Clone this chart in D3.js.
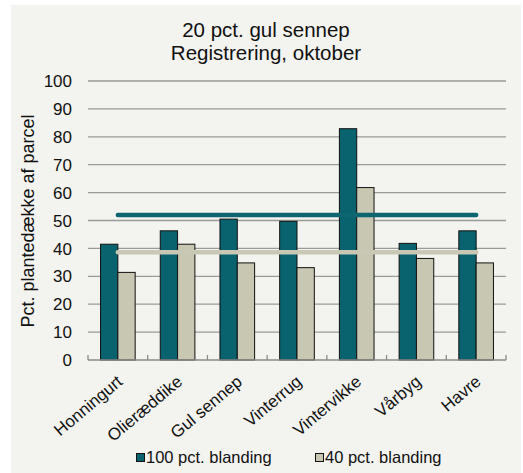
<!DOCTYPE html>
<html>
<head>
<meta charset="utf-8">
<script src="https://cdn.jsdelivr.net/npm/d3@7"></script>
<style>
  body { margin: 0; background: #fff; }
  svg text { font-family: "Liberation Sans", Arial, sans-serif; fill: #111; }
</style>
</head>
<body>
<div id="chart"></div>
<script>
const categories = ['Honningurt', 'Olieræddike', 'Gul sennep', 'Vinterrug', 'Vintervikke', 'Vårbyg', 'Havre'];
const series = ['100 pct. blanding', '40 pct. blanding'];
const values100 = [41.5, 46.3, 50.5, 49.7, 82.9, 41.8, 46.3];
const values40 = [31.4, 41.5, 34.8, 33.1, 61.8, 36.4, 34.8];
const avgLines = [52, 38.6];
const yTicks = [0, 10, 20, 30, 40, 50, 60, 70, 80, 90, 100];
const colors = ['#09636f', '#c8c7b2'];
const lineColors = ['#0c6570', '#c9c8b4'];

const W = 523, H = 473;
const margin = { top: 81, right: 17, bottom: 113, left: 88 };
const width = W - margin.left - margin.right;
const height = H - margin.top - margin.bottom;

const svg = d3.select('#chart').append('svg')
  .attr('width', W)
  .attr('height', H);

svg.append('rect')
  .attr('x', 11).attr('y', 5)
  .attr('width', 510).attr('height', 468)
  .attr('fill', '#f3f3ef');

const g = svg.append('g')
  .attr('transform', `translate(${margin.left},${margin.top})`);

const x = d3.scaleBand().domain(categories).range([0, width]);
const x1 = d3.scaleBand().domain(series).range([x.bandwidth() * 0.21, x.bandwidth() * 0.79]);
const y = d3.scaleLinear().domain([0, 100]).range([height, 0]);

// gridlines
g.append('g')
  .selectAll('line')
  .data(yTicks.slice(1))
  .enter()
  .append('line')
  .attr('x1', 0).attr('x2', width)
  .attr('y1', d => y(d)).attr('y2', d => y(d))
  .attr('stroke', '#9a9a98')
  .attr('stroke-width', 1.3);

// y tick labels
g.append('g')
  .selectAll('text')
  .data(yTicks)
  .enter()
  .append('text')
  .attr('x', -16)
  .attr('y', d => y(d))
  .attr('dy', '0.36em')
  .attr('text-anchor', 'end')
  .style('font-size', '17px')
  .text(d => d);

// bars
const data = categories.map((c, i) => ({ cat: c, vals: [values100[i], values40[i]] }));
const groups = g.selectAll('.grp')
  .data(data)
  .enter()
  .append('g')
  .attr('class', 'grp')
  .attr('transform', d => `translate(${x(d.cat)},0)`);

groups.selectAll('rect')
  .data(d => d.vals.map((v, i) => ({ key: series[i], v, i })))
  .enter()
  .append('rect')
  .attr('x', d => x1(d.key))
  .attr('y', d => y(d.v))
  .attr('width', x1.bandwidth())
  .attr('height', d => y(0) - y(d.v))
  .attr('fill', d => colors[d.i])
  .attr('stroke', '#111')
  .attr('stroke-width', 1);

// x axis
const xAxis = g.append('g')
  .attr('transform', `translate(0,${height})`);
xAxis.append('line')
  .attr('x1', 0).attr('x2', width)
  .attr('stroke', '#8a8a88').attr('stroke-width', 1.3);
xAxis.selectAll('.tick')
  .data(d3.range(categories.length + 1))
  .enter()
  .append('line')
  .attr('x1', i => i * x.step()).attr('x2', i => i * x.step())
  .attr('y1', -5).attr('y2', 0)
  .attr('stroke', '#8a8a88').attr('stroke-width', 1.3);

xAxis.selectAll('text')
  .data(categories)
  .enter()
  .append('text')
  .attr('transform', d => `translate(${x(d) + x.bandwidth() / 2 - 2},${14}) rotate(-40)`)
  .attr('text-anchor', 'end')
  .attr('dy', '0.72em')
  .style('font-size', '17px')
  .text(d => d);

// average lines
const x0 = x(categories[0]) + x.bandwidth() / 2;
const xN = x(categories[categories.length - 1]) + x.bandwidth() / 2;
g.selectAll('.avg')
  .data(avgLines)
  .enter()
  .append('line')
  .attr('class', 'avg')
  .attr('x1', x0).attr('x2', xN)
  .attr('y1', d => y(d)).attr('y2', d => y(d))
  .attr('stroke', (d, i) => lineColors[i])
  .attr('stroke-width', 4.5)
  .attr('stroke-linecap', 'round');

// y label
svg.append('text')
  .attr('transform', `translate(34,221) rotate(-90)`)
  .attr('text-anchor', 'middle')
  .style('font-size', '18px')
  .text('Pct. plantedække af parcel');

// title
svg.append('text')
  .attr('x', 266).attr('y', 37)
  .attr('text-anchor', 'middle')
  .style('font-size', '20.5px')
  .text('20 pct. gul sennep');
svg.append('text')
  .attr('x', 266).attr('y', 60)
  .attr('text-anchor', 'middle')
  .style('font-size', '20.5px')
  .text('Registrering, oktober');

// legend
const legendX = [136, 315];
const legend = svg.selectAll('.legend')
  .data(series)
  .enter()
  .append('g')
  .attr('class', 'legend')
  .attr('transform', (d, i) => `translate(${legendX[i]},463)`);
legend.append('rect')
  .attr('x', 0.5).attr('y', -9.5)
  .attr('width', 8).attr('height', 8)
  .attr('fill', (d, i) => colors[i])
  .attr('stroke', '#111').attr('stroke-width', 1);
legend.append('text')
  .attr('x', 10).attr('y', 0)
  .style('font-size', '16.5px')
  .text(d => d);
</script>
</body>
</html>
